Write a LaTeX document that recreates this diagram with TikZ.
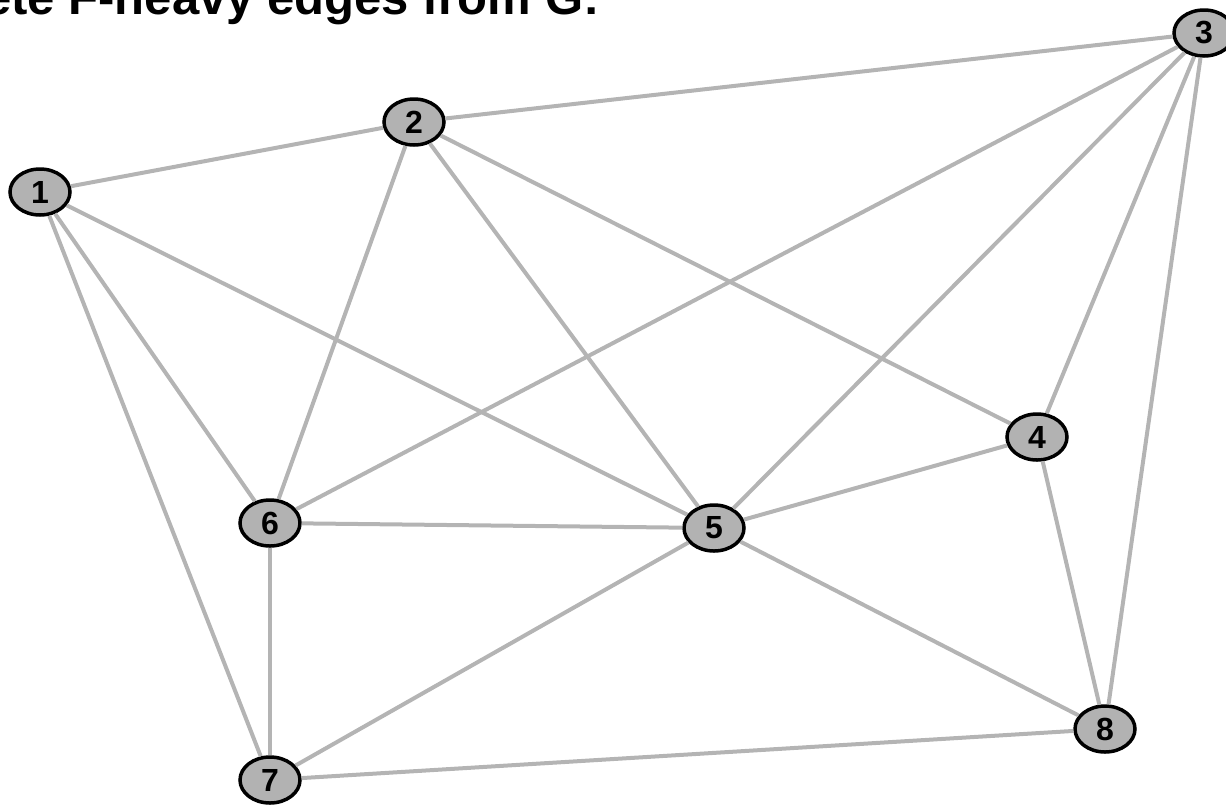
\documentclass[tikz,border=0pt]{standalone}
\usepackage{fontspec}
\setmainfont{Liberation Sans}
\usetikzlibrary{shapes.geometric}
\definecolor{edgegray}{RGB}{180,180,180}
\definecolor{nodegray}{RGB}{178,178,178}
\begin{document}
\begin{tikzpicture}[x=1pt,y=-1pt,
  vert/.style={ellipse,draw=black,line width=3.5pt,fill=nodegray,
    minimum width=60pt,minimum height=46pt,inner sep=0pt,
    font=\fontsize{32}{34}\selectfont\bfseries},
  edge/.style={draw=edgegray,line width=4pt},
  titletext/.style={anchor=base west,inner sep=0pt,
    font=\fontsize{49}{52}\selectfont\bfseries}]
\useasboundingbox (0,0) rectangle (1226,807);
\clip (0,0) rectangle (1226,807);
\node[titletext] (title) at (-16,14) {ete F-heavy edges from G:};
\node[vert] (n1) at (40,192) {1};
\node[vert] (n2) at (414,122) {2};
\node[vert] (n3) at (1204,33) {3};
\node[vert] (n4) at (1037,437) {4};
\node[vert] (n5) at (714,528) {5};
\node[vert] (n6) at (270,523) {6};
\node[vert] (n7) at (270,780) {7};
\node[vert] (n8) at (1105,729) {8};
\foreach \a/\b in {n1/n2,n1/n6,n1/n5,n1/n7,n2/n3,n2/n6,n2/n5,n2/n4,
  n3/n6,n3/n5,n3/n4,n3/n8,n4/n5,n4/n8,n5/n6,n5/n7,n5/n8,n6/n7,n7/n8}
  \draw[edge] (\a) -- (\b);
\end{tikzpicture}
\end{document}
